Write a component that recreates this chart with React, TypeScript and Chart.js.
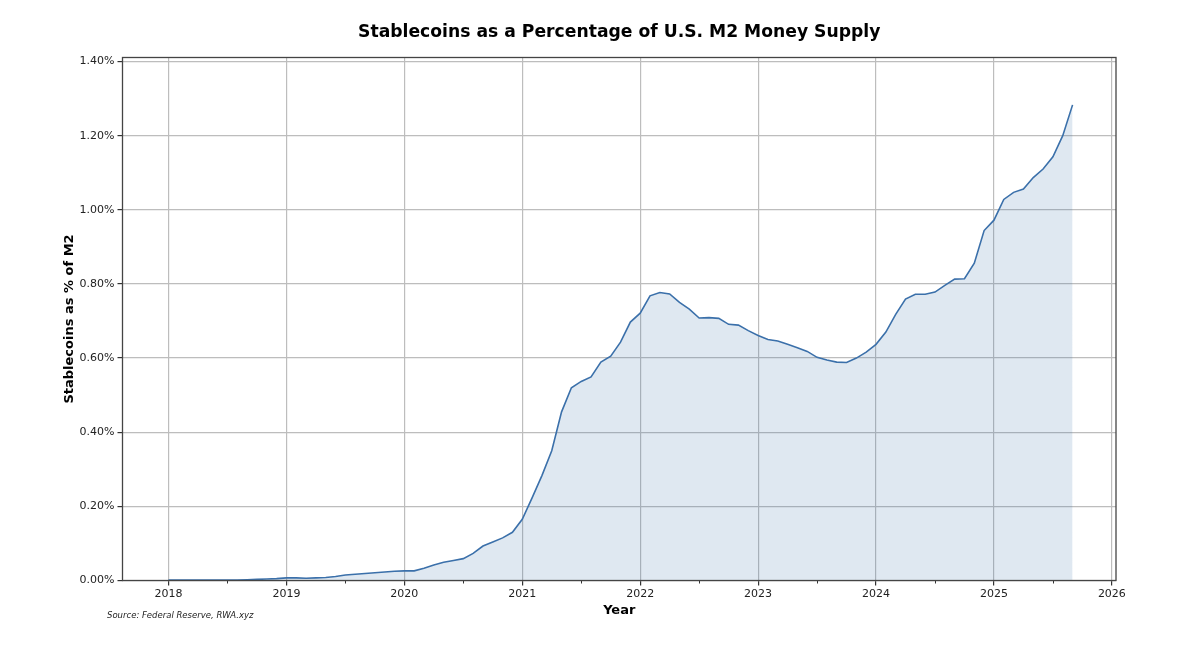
import React, { useEffect, useRef } from 'react';
import { Chart, registerables } from 'chart.js';

Chart.register(...registerables);

// monthly share of M2 (%), Jan..Dec of each year
const years = [2018, 2019, 2020, 2021, 2022, 2023, 2024, 2025];
const share2018 = [0.001, 0.001, 0.001, 0.001, 0.001, 0.001, 0.001, 0.001, 0.002, 0.003, 0.004, 0.005];
const share2019 = [0.007, 0.007, 0.006, 0.007, 0.008, 0.011, 0.015, 0.017, 0.019, 0.021, 0.023, 0.025];
const share2020 = [0.026, 0.026, 0.033, 0.042, 0.049, 0.054, 0.059, 0.073, 0.093, 0.104, 0.115, 0.13];
const share2021 = [0.165, 0.223, 0.283, 0.35, 0.455, 0.52, 0.537, 0.549, 0.589, 0.605, 0.643, 0.697];
const share2022 = [0.721, 0.768, 0.777, 0.773, 0.75, 0.732, 0.708, 0.709, 0.707, 0.691, 0.689, 0.674];
const share2023 = [0.661, 0.65, 0.646, 0.637, 0.628, 0.618, 0.602, 0.595, 0.589, 0.588, 0.6, 0.616];
const share2024 = [0.637, 0.67, 0.718, 0.759, 0.772, 0.772, 0.778, 0.796, 0.813, 0.814, 0.856, 0.944];
const share2025 = [0.972, 1.028, 1.047, 1.056, 1.087, 1.11, 1.143, 1.2, 1.283];
const shares = [share2018, share2019, share2020, share2021, share2022, share2023, share2024, share2025];

const yTicks = [0, 0.2, 0.4, 0.6, 0.8, 1.0, 1.2, 1.4];
const xMajor = [2018, 2019, 2020, 2021, 2022, 2023, 2024, 2025, 2026];
const xMinor = [2018.5, 2019.5, 2020.5, 2021.5, 2022.5, 2023.5, 2024.5, 2025.5];

const TITLE = 'Stablecoins as a Percentage of U.S. M2 Money Supply';
const Y_TITLE = 'Stablecoins as % of M2';
const X_TITLE = 'Year';
const SOURCE = 'Source: Federal Reserve, RWA.xyz';

const FONT = '"DejaVu Sans", sans-serif';
const LINE = '#3b70aa';
const GRID = '#bdbdbd';

const isMajor = (v: number) => Math.abs(v - Math.round(v)) < 1e-6;

const overlay = {
  id: 'overlay',
  afterDatasetsDraw(chart: any) {
    const { ctx, chartArea: a, scales } = chart;
    ctx.save();
    // minor ticks
    ctx.strokeStyle = '#333';
    ctx.lineWidth = 1;
    xMinor.forEach((v) => {
      const px = Math.round(scales.x.getPixelForValue(v)) + 0.5;
      ctx.beginPath();
      ctx.moveTo(px, a.bottom);
      ctx.lineTo(px, a.bottom + 3);
      ctx.stroke();
    });
    // frame
    ctx.strokeStyle = '#444';
    ctx.lineWidth = 1.3;
    ctx.strokeRect(a.left, a.top, a.right - a.left, a.bottom - a.top);
    ctx.restore();
  },
  afterDraw(chart: any) {
    const { ctx, chartArea: a } = chart;
    const cx = (a.left + a.right) / 2;
    ctx.save();
    ctx.fillStyle = '#000';
    ctx.textAlign = 'center';
    ctx.textBaseline = 'alphabetic';
    ctx.font = `bold 17.2px ${FONT}`;
    ctx.fillText(TITLE, cx, 36.5);
    ctx.font = `bold 13px ${FONT}`;
    ctx.fillText(X_TITLE, cx, 614);
    ctx.save();
    ctx.translate(70, (a.top + a.bottom) / 2);
    ctx.rotate(-Math.PI / 2);
    ctx.textBaseline = 'middle';
    ctx.fillText(Y_TITLE, 0, 0);
    ctx.restore();
    ctx.textAlign = 'left';
    ctx.fillStyle = '#222';
    ctx.font = `italic 8.5px ${FONT}`;
    ctx.fillText(SOURCE, 107, 618);
    ctx.restore();
  },
};

export default function App() {
  const canvasRef = useRef<HTMLCanvasElement>(null);
  const chartRef = useRef<Chart | null>(null);

  useEffect(() => {
    document.body.style.margin = '0';
    if (!canvasRef.current) return;
    if (chartRef.current) chartRef.current.destroy();

    const points: { x: number; y: number }[] = [];
    years.forEach((yr, i) => {
      shares[i].forEach((v, m) => points.push({ x: yr + m / 12, y: v }));
    });

    chartRef.current = new Chart(canvasRef.current, {
      type: 'line',
      data: {
        datasets: [
          {
            data: points,
            borderColor: LINE,
            borderWidth: 1.6,
            backgroundColor: 'rgba(59,112,170,0.16)',
            fill: 'origin',
            pointRadius: 0,
            tension: 0,
          },
        ],
      },
      plugins: [overlay],
      options: {
        animation: false,
        responsive: false,
        events: [],
        layout: { padding: { top: 57.5, right: 84, left: 0, bottom: 0 } },
        scales: {
          x: {
            type: 'linear',
            min: 2017.61,
            max: 2026.035,
            afterFit: (s: any) => { s.height = 68.5; },
            afterBuildTicks: (s: any) => {
              s.ticks = [...xMajor, ...xMinor].sort((p, q) => p - q).map((v) => ({ value: v }));
            },
            border: { display: false },
            grid: {
              color: (c: any) => (c.tick && isMajor(c.tick.value) ? GRID : 'transparent'),
              tickColor: (c: any) => (c.tick && isMajor(c.tick.value) ? '#333' : 'transparent'),
              lineWidth: 1.2,
              tickLength: 5,
            },
            ticks: {
              autoSkip: false,
              maxRotation: 0,
              padding: 2,
              color: '#222',
              font: { family: FONT, size: 11 },
              callback: (v: any) => (isMajor(Number(v)) ? String(Math.round(Number(v))) : ''),
            },
          },
          y: {
            min: 0,
            max: 1.4108,
            afterFit: (s: any) => { s.width = 122.5; },
            afterBuildTicks: (s: any) => {
              s.ticks = yTicks.map((v) => ({ value: v }));
            },
            border: { display: false },
            grid: {
              color: GRID,
              tickColor: '#333',
              lineWidth: 1.2,
              tickLength: 5,
            },
            ticks: {
              padding: 3,
              color: '#222',
              font: { family: FONT, size: 11 },
              callback: (v: any) => `${Number(v).toFixed(2)}%`,
            },
          },
        },
        plugins: {
          legend: { display: false },
          tooltip: { enabled: false },
          title: { display: false },
        },
      },
    });

    return () => {
      if (chartRef.current) chartRef.current.destroy();
      chartRef.current = null;
    };
  }, []);

  return <canvas ref={canvasRef} width={1200} height={649} style={{ display: 'block' }} />;
}
